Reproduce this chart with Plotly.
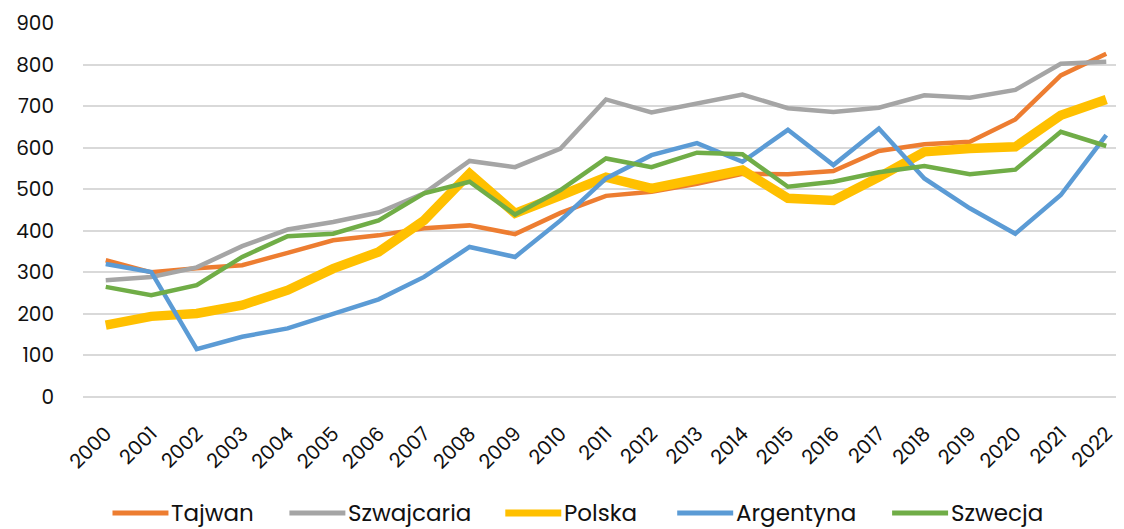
import plotly.graph_objects as go

years = [str(y) for y in range(2000, 2023)]

tajwan = [329, 300, 310, 317, 347, 377, 389, 406, 413, 392, 443, 484, 494, 513, 537, 536, 544, 592, 608, 614, 668, 774, 826]
szwajcaria = [281, 289, 312, 363, 403, 421, 444, 490, 568, 553, 598, 716, 685, 706, 728, 695, 686, 696, 726, 720, 739, 802, 807]
polska = [173, 194, 201, 221, 257, 309, 349, 425, 538, 442, 485, 529, 502, 522, 546, 478, 473, 529, 590, 598, 602, 678, 716]
argentyna = [320, 301, 115, 145, 165, 201, 235, 289, 361, 337, 425, 526, 582, 611, 566, 643, 558, 646, 526, 454, 393, 486, 630]
szwecja = [265, 245, 269, 337, 387, 393, 425, 490, 518, 439, 498, 574, 553, 588, 584, 506, 518, 541, 556, 536, 547, 638, 604]

names = ["Tajwan", "Szwajcaria", "Polska", "Argentyna", "Szwecja"]
values = [tajwan, szwajcaria, polska, argentyna, szwecja]
colors = ["#ED7D31", "#A5A5A5", "#FFC000", "#5B9BD5", "#70AD47"]
widths = [4.5, 4.5, 9.5, 4.5, 4.5]

# page body has an 8px margin; figure is sized/offset to compensate
OFF = 8
W, H = 1124 - OFF, 529 - OFF
ML = 82.5 - OFF
MT = 22.7 - OFF
MB = H - (397 - OFF)
plot_w = W - ML
plot_h = H - MT - MB
legend_px = [112, 289, 505, 677, 892]  # screen px of legend line starts
legend_line_len = 56
legend_y_px = 513


def px_to_paper_x(px):
    return (px - OFF - ML) / plot_w


def px_to_paper_y(py):
    return (H - MB - (py - OFF)) / plot_h


font_family = "Poppins, Inter, Roboto, sans-serif"

fig = go.Figure()
for name, vals, color, w in zip(names, values, colors, widths):
    fig.add_trace(go.Scatter(
        x=years, y=vals, name=name, mode="lines",
        line=dict(color=color, width=w),
    ))

shapes = []
annotations = []
ly = px_to_paper_y(legend_y_px)
for name, color, w, x0 in zip(names, colors, widths, legend_px):
    shapes.append(dict(
        type="line", xref="paper", yref="paper",
        x0=px_to_paper_x(x0), x1=px_to_paper_x(x0 + legend_line_len),
        y0=ly, y1=ly, line=dict(color=color, width=7 if w > 5 else 5),
    ))
    annotations.append(dict(
        text=name, xref="paper", yref="paper",
        x=px_to_paper_x(x0 + legend_line_len + 1), y=ly,
        xanchor="left", yanchor="middle", showarrow=False,
        font=dict(size=23, color="#111111", family=font_family),
    ))

fig.update_layout(
    width=W, height=H,
    margin=dict(l=ML, r=0, t=MT, b=MB, autoexpand=False),
    plot_bgcolor="white", paper_bgcolor="white",
    font=dict(family=font_family, color="#111111"),
    showlegend=False,
    shapes=shapes,
    annotations=annotations,
    xaxis=dict(
        type="category", range=[-0.5, 22.39],
        tickangle=-45, tickfont=dict(size=20, family=font_family, color="#111111"),
        showgrid=False, showline=False, ticks="", zeroline=False,
        automargin=False, ticklabelstandoff=20,
    ),
    yaxis=dict(
        range=[0, 900], tickvals=[0, 100, 200, 300, 400, 500, 600, 700, 800, 900],
        tickfont=dict(size=20, family=font_family, color="#111111"),
        showgrid=True, gridcolor="#D9D9D9", gridwidth=1.5,
        zeroline=True, zerolinecolor="#D9D9D9", zerolinewidth=1.5,
        showline=False, ticks="", ticklabelstandoff=28, automargin=False,
    ),
)

fig.write_html("out.html")
